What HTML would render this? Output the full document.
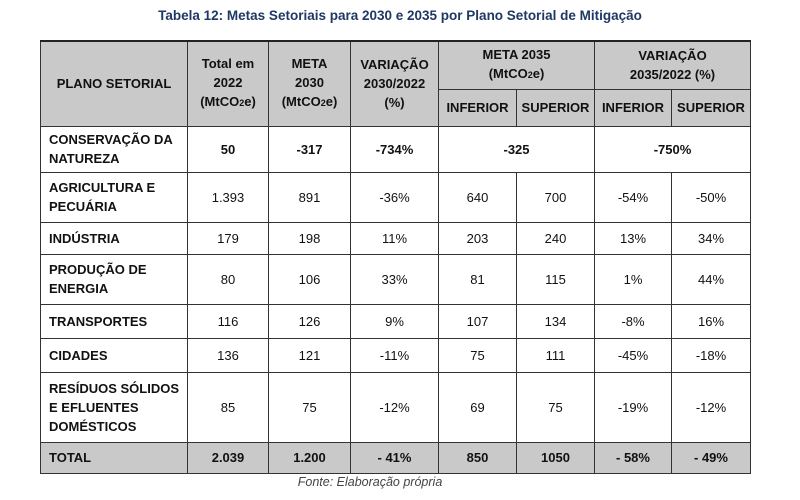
<!DOCTYPE html>
<html><head><meta charset="utf-8"><style>
body{margin:0;width:800px;height:500px;background:#fff;font-family:"Liberation Sans",sans-serif;position:relative;overflow:hidden}
.title{position:absolute;top:8px;left:0;width:800px;text-align:center;font-weight:bold;font-size:13.5px;color:#1f3864}
table{position:absolute;left:40px;top:40px;border-collapse:collapse;table-layout:fixed;font-size:13px;color:#111}
td{border:1px solid #333;text-align:center;padding:0;line-height:19px}
tr.h td{background:#c9c9c9;font-weight:bold}
td.l{text-align:left;padding-left:8px;font-weight:bold}
tr.t td{background:#c9c9c9;font-weight:bold}
tr.b td{font-weight:bold}
table{border-top:2px solid #222}
.f{position:absolute;top:475px;left:0;width:740px;text-align:center;font-style:italic;font-size:12.5px;color:#444}
sub{font-size:9px;vertical-align:baseline}
</style></head><body>
<div class="title">Tabela 12: Metas Setoriais para 2030 e 2035 por Plano Setorial de Mitigação</div>
<table>
<colgroup><col style="width:147px"><col style="width:81px"><col style="width:82px"><col style="width:88px"><col style="width:78px"><col style="width:78px"><col style="width:77px"><col style="width:79px"></colgroup>
<tr class="h" style="height:48px"><td rowspan="2">PLANO SETORIAL</td><td rowspan="2">Total em<br>2022<br>(MtCO<sub>2</sub>e)</td><td rowspan="2">META<br>2030<br>(MtCO<sub>2</sub>e)</td><td rowspan="2">VARIAÇÃO<br>2030/2022<br>(%)</td><td colspan="2">META 2035<br>(MtCO<sub>2</sub>e)</td><td colspan="2">VARIAÇÃO<br>2035/2022 (%)</td></tr>
<tr class="h" style="height:37px"><td>INFERIOR</td><td>SUPERIOR</td><td>INFERIOR</td><td>SUPERIOR</td></tr>
<tr class="b" style="height:46px"><td class="l">CONSERVAÇÃO DA<br>NATUREZA</td><td>50</td><td>-317</td><td>-734%</td><td colspan="2">-325</td><td colspan="2">-750%</td></tr>
<tr style="height:50px"><td class="l">AGRICULTURA E<br>PECUÁRIA</td><td>1.393</td><td>891</td><td>-36%</td><td>640</td><td>700</td><td>-54%</td><td>-50%</td></tr>
<tr style="height:32px"><td class="l">INDÚSTRIA</td><td>179</td><td>198</td><td>11%</td><td>203</td><td>240</td><td>13%</td><td>34%</td></tr>
<tr style="height:50px"><td class="l">PRODUÇÃO DE<br>ENERGIA</td><td>80</td><td>106</td><td>33%</td><td>81</td><td>115</td><td>1%</td><td>44%</td></tr>
<tr style="height:34px"><td class="l">TRANSPORTES</td><td>116</td><td>126</td><td>9%</td><td>107</td><td>134</td><td>-8%</td><td>16%</td></tr>
<tr style="height:34px"><td class="l">CIDADES</td><td>136</td><td>121</td><td>-11%</td><td>75</td><td>111</td><td>-45%</td><td>-18%</td></tr>
<tr style="height:70px"><td class="l">RESÍDUOS SÓLIDOS<br>E EFLUENTES<br>DOMÉSTICOS</td><td>85</td><td>75</td><td>-12%</td><td>69</td><td>75</td><td>-19%</td><td>-12%</td></tr>
<tr class="t" style="height:31px"><td class="l">TOTAL</td><td>2.039</td><td>1.200</td><td>- 41%</td><td>850</td><td>1050</td><td>- 58%</td><td>- 49%</td></tr>
</table>
<div class="f">Fonte: Elaboração própria</div>
</body></html>
